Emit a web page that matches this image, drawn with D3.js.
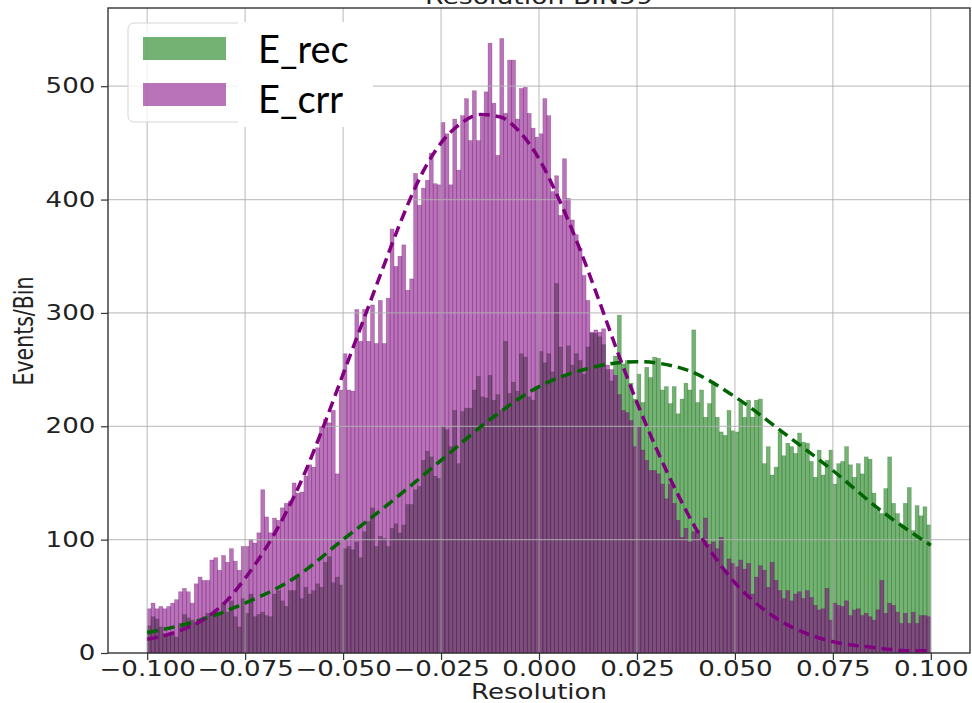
<!DOCTYPE html>
<html>
<head>
<meta charset="utf-8">
<script src="https://cdn.jsdelivr.net/npm/d3@7"></script>
<style>
body { margin: 0; background: #fff; }
svg { display: block; }
</style>
</head>
<body>
<svg></svg>
<script>
// histogram bins: 200 bins of width 0.001 from -0.1 to 0.1
var binStart = -0.1, binWidth = 0.001

// counts per bin
var eRec = [
    24, 32, 30, 23, 17, 16, 16, 14, 26, 34,
    31, 29, 26, 29, 32, 35, 33, 38, 36, 44,
    36, 46, 32, 23, 48, 35, 52, 32, 34, 36,
    33, 32, 52, 55, 46, 41, 55, 55, 67, 48,
    58, 52, 55, 61, 58, 80, 85, 62, 67, 60,
    92, 94, 91, 98, 84, 107, 116, 128, 94, 103,
    101, 94, 110, 114, 106, 113, 131, 131, 144, 147,
    170, 178, 173, 156, 154, 200, 197, 182, 214, 167,
    213, 216, 216, 232, 244, 226, 225, 245, 223, 228,
    214, 275, 229, 239, 231, 264, 261, 226, 223, 235,
    266, 256, 264, 248, 326, 270, 245, 271, 254, 264,
    258, 246, 270, 282, 282, 279, 272, 250, 240, 262,
    298, 255, 258, 238, 224, 246, 221, 252, 243, 261,
    260, 232, 235, 220, 235, 211, 224, 238, 232, 285,
    221, 232, 208, 220, 239, 208, 195, 192, 214, 196,
    195, 221, 208, 223, 208, 223, 224, 167, 182, 157,
    164, 195, 174, 185, 182, 176, 194, 186, 185, 169,
    155, 179, 157, 170, 179, 149, 167, 169, 182, 166,
    155, 167, 158, 173, 171, 141, 126, 123, 145, 173,
    132, 123, 111, 132, 146, 108, 130, 121, 129, 113
]
var eCrr = [
    39, 44, 39, 41, 39, 41, 44, 47, 54, 57,
    54, 44, 61, 67, 64, 64, 82, 84, 73, 86,
    80, 92, 81, 73, 94, 94, 100, 97, 106, 144,
    120, 106, 119, 117, 128, 132, 134, 150, 141, 142,
    156, 166, 164, 181, 200, 206, 203, 214, 158, 232,
    264, 232, 231, 303, 275, 303, 275, 307, 273, 311,
    273, 313, 374, 341, 350, 360, 320, 330, 423, 395,
    410, 417, 441, 414, 413, 468, 458, 413, 471, 426,
    474, 489, 452, 496, 452, 473, 495, 538, 485, 439,
    542, 476, 523, 523, 471, 498, 499, 476, 463, 455,
    458, 489, 474, 407, 421, 386, 436, 401, 382, 369,
    357, 333, 311, 283, 285, 283, 286, 254, 250, 245,
    228, 214, 212, 205, 182, 199, 179, 170, 161, 161,
    158, 149, 136, 149, 132, 117, 102, 110, 98, 107,
    108, 99, 119, 96, 98, 92, 102, 73, 83, 79,
    76, 82, 74, 79, 52, 67, 77, 73, 58, 80,
    64, 55, 48, 55, 46, 52, 54, 48, 55, 49,
    42, 38, 39, 57, 29, 44, 42, 41, 46, 33,
    38, 39, 33, 35, 32, 29, 38, 64, 35, 44,
    42, 36, 26, 35, 26, 36, 26, 33, 33, 32
]

// dashed fit curves
var recFitX = [-0.1, -0.0875, -0.075, -0.0625, -0.05, -0.0375, -0.025, -0.0125, 0, 0.0125, 0.025, 0.0375, 0.05, 0.0625, 0.075, 0.0875, 0.1]
var recFitY = [18, 28, 44, 66, 100, 134, 170, 206, 235, 251, 257, 250, 226, 194, 161, 125, 95]
var crrFitX = [-0.1, -0.095, -0.09, -0.085, -0.08, -0.075, -0.07, -0.065, -0.06, -0.055, -0.05,
    -0.045, -0.04, -0.035, -0.03, -0.025, -0.02, -0.015, -0.01, -0.005, 0,
    0.005, 0.01, 0.015, 0.02, 0.025, 0.03, 0.035, 0.04, 0.045, 0.05,
    0.055, 0.06, 0.065, 0.07, 0.075, 0.08, 0.085, 0.09, 0.095, 0.1]
var crrFitY = [12, 16, 22, 31, 45, 66, 91, 121, 157, 200, 246,
    292, 338, 383, 422, 450, 467, 475, 473, 460, 436,
    401, 360, 314, 266, 221, 180, 143, 110, 84, 62,
    45, 32, 22, 15, 10, 7, 5, 3, 2, 2]

var xTicks = [-0.1, -0.075, -0.05, -0.025, 0, 0.025, 0.05, 0.075, 0.1]
var yTicks = [0, 100, 200, 300, 400, 500]
var legendLabels = ['E_rec', 'E_crr']

var svgWidth = 972, svgHeight = 703
var plot = {left: 108, right: 970, top: 8, bottom: 653}
var stretch = 1.27 // the picture is widened, so the text is too
var recFill = 'rgba(0,115,0,0.55)', crrFill = 'rgba(128,0,128,0.55)'

var svg = d3.select('svg')
    .attr('width', svgWidth)
    .attr('height', svgHeight)

var x = d3.scaleLinear().domain([-0.11, 0.11]).range([plot.left, plot.right])
var y = d3.scaleLinear().domain([0, 569]).range([plot.bottom, plot.top])

function drawBars(values, fill, stroke) {
    svg.append('g').selectAll('rect')
        .data(values)
        .enter()
        .append('rect')
        .attr('x', function(d, i) { return x(binStart + i * binWidth) })
        .attr('width', function(d, i) { return x(binStart + (i + 1) * binWidth) - x(binStart + i * binWidth) })
        .attr('y', function(d) { return y(d) })
        .attr('height', function(d) { return y(0) - y(d) })
        .attr('fill', fill)
        .attr('stroke', stroke)
        .attr('stroke-width', 0.6)
}

// green first, purple on top of it
drawBars(eRec, recFill, 'rgba(0,80,0,0.35)')
drawBars(eCrr, crrFill, 'rgba(100,0,100,0.4)')

// grid sits over the bars
var grid = svg.append('g')
    .attr('stroke', '#b0b0b0')
    .attr('stroke-opacity', 0.75)
    .attr('stroke-width', 1.2)
grid.selectAll('.gx').data(xTicks).enter().append('line')
    .attr('x1', function(d) { return x(d) }).attr('x2', function(d) { return x(d) })
    .attr('y1', plot.top).attr('y2', plot.bottom)
grid.selectAll('.gy').data(yTicks.slice(1)).enter().append('line')
    .attr('x1', plot.left).attr('x2', plot.right)
    .attr('y1', function(d) { return y(d) }).attr('y2', function(d) { return y(d) })

// fit curves
var line = d3.line()
    .x(function(d) { return x(d[0]) })
    .y(function(d) { return y(d[1]) })
    .curve(d3.curveMonotoneX)

svg.append('path')
    .attr('d', line(d3.zip(recFitX, recFitY)))
    .attr('fill', 'none')
    .attr('stroke', '#006400')
    .attr('stroke-width', 3.5)
    .attr('stroke-dasharray', '11,6')

svg.append('path')
    .attr('d', line(d3.zip(crrFitX, crrFitY)))
    .attr('fill', 'none')
    .attr('stroke', '#800080')
    .attr('stroke-width', 3.5)
    .attr('stroke-dasharray', '11,6')

// frame
svg.append('rect')
    .attr('x', plot.left).attr('y', plot.top)
    .attr('width', plot.right - plot.left).attr('height', plot.bottom - plot.top)
    .attr('fill', 'none')
    .attr('stroke', '#333')
    .attr('stroke-width', 1.4)

// axes
svg.append('g')
    .attr('transform', 'translate(0,' + plot.bottom + ')')
    .call(d3.axisBottom(x).tickValues(xTicks).tickFormat(d3.format('.3f')).tickSize(7).tickPadding(1))
svg.append('g')
    .attr('transform', 'translate(' + plot.left + ',0)')
    .call(d3.axisLeft(y).tickValues(yTicks).tickSize(7).tickPadding(3))

svg.selectAll('.domain').remove()
svg.selectAll('.tick line').attr('stroke', '#333').attr('stroke-width', 1.2)
svg.selectAll('.tick text')
    .attr('font-family', 'DejaVu Sans')
    .attr('font-size', 20.5)
    .attr('fill', '#222')
    .attr('transform', 'scale(' + stretch + ',1)')

function label(txt, px, py, size, rotate) {
    svg.append('g')
        .attr('transform', 'translate(' + px + ',' + py + ') scale(' + stretch + ',1)')
        .append('text')
        .attr('transform', rotate ? 'rotate(-90)' : null)
        .attr('text-anchor', 'middle')
        .attr('font-family', 'DejaVu Sans')
        .attr('font-size', size)
        .attr('fill', '#222')
        .text(txt)
}
label('Resolution BIN59', 539, 4, 21, false)
label('Resolution', 539, 699, 20.5, false)
label('Events/Bin', 33, 331, 20.5, true)

// legend box
svg.append('rect')
    .attr('x', 128).attr('y', 23).attr('width', 200).attr('height', 99)
    .attr('rx', 6)
    .attr('fill', 'white').attr('fill-opacity', 0.8)
    .attr('stroke', '#d5d5d5')
svg.append('rect').attr('x', 143).attr('y', 37).attr('width', 83).attr('height', 23)
    .attr('fill', recFill)
svg.append('rect').attr('x', 143).attr('y', 83).attr('width', 83).attr('height', 23)
    .attr('fill', crrFill)

// white patch with the larger labels pasted over the legend
svg.append('rect').attr('x', 238).attr('y', 22).attr('width', 135).attr('height', 105).attr('fill', 'white')
svg.selectAll('.leg').data(legendLabels).enter().append('text')
    .attr('x', 258)
    .attr('y', function(d, i) { return 63 + i * 50 })
    .attr('font-family', 'Lato')
    .attr('font-size', 38)
    .attr('fill', '#000')
    .text(function(d) { return d })
</script>
</body>
</html>
